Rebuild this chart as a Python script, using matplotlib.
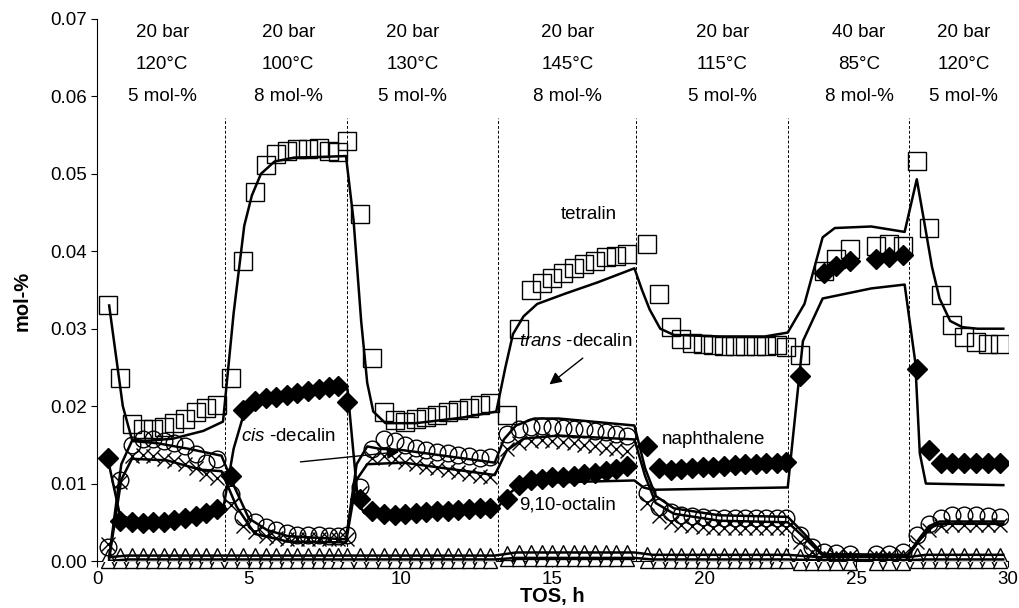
import numpy as np
import matplotlib
matplotlib.use("Agg")
from matplotlib import pyplot as plt

plt.rcParams['font.family'] = ['Liberation Sans', 'DejaVu Sans']
plt.rcParams['mathtext.fontset'] = 'custom'
plt.rcParams['mathtext.it'] = 'Liberation Sans:italic'
plt.rcParams['mathtext.rm'] = 'Liberation Sans'

nan = np.nan

# sample times (TOS, h)
tos = [0.35, 0.75, 1.15, 1.5, 1.85, 2.2, 2.55, 2.9, 3.25, 3.6, 3.95,
       4.4, 4.8, 5.2, 5.55, 5.9, 6.25, 6.6, 6.95, 7.3, 7.65, 7.95, 8.25,
       8.65, 9.05, 9.45, 9.8, 10.15, 10.5, 10.85, 11.2, 11.55, 11.9, 12.25, 12.6, 12.95,
       13.5, 13.9, 14.3, 14.65, 15.0, 15.35, 15.7, 16.05, 16.4, 16.75, 17.1, 17.45,
       18.1, 18.5, 18.9, 19.25, 19.6, 19.95, 20.3, 20.65, 21.0, 21.35, 21.7, 22.05, 22.4, 22.7,
       23.15, 23.55, 23.95, 24.35, 24.8, 25.65, 26.1, 26.55,
       27.0, 27.4, 27.8, 28.15, 28.55, 28.95, 29.35, 29.75]

tetralin = [0.033, 0.0236, 0.0177, 0.017, 0.017, 0.0173, 0.0178, 0.0184, 0.0192, 0.0198, 0.0201,
            0.0236, 0.0387, 0.0477, 0.0511, 0.0525, 0.053, 0.0532, 0.0532, 0.0533, 0.053, 0.0528, 0.0543,
            0.0448, 0.0262, 0.0193, 0.0182, 0.018, 0.0184, 0.0186, 0.0189, 0.0192, 0.0195, 0.0198, 0.0201, 0.0204,
            0.0189, 0.030, 0.035, 0.0359, 0.0366, 0.0372, 0.0378, 0.0384, 0.0388, 0.0392, 0.0394, 0.0396,
            0.0409, 0.0345, 0.0302, 0.0287, 0.0282, 0.028, 0.0279, 0.0278, 0.0278, 0.0278, 0.0278, 0.0278, 0.0279, 0.0277,
            0.0266, nan, 0.0375, 0.039, 0.0403, 0.0407, 0.0409, 0.0407,
            0.0516, 0.043, 0.0343, 0.0305, 0.0289, 0.0283, 0.028, 0.028]

naphthalene = [0.0133, 0.0052, 0.005, 0.0049, 0.005, 0.0051, 0.0053, 0.0055, 0.0058, 0.0062, 0.0067,
               0.011, 0.0195, 0.0207, 0.021, 0.0212, 0.0214, 0.0217, 0.0219, 0.0222, 0.0225, 0.0226, 0.0205,
               0.008, 0.0064, 0.0061, 0.006, 0.0061, 0.0062, 0.0063, 0.0064, 0.0065, 0.0066, 0.0067, 0.0068, 0.0069,
               0.008, 0.0098, 0.0104, 0.0106, 0.0108, 0.0109, 0.011, 0.0112, 0.0114, 0.0116, 0.0119, 0.0123,
               0.0148, 0.012, 0.0118, 0.0119, 0.012, 0.0121, 0.0122, 0.0123, 0.0124, 0.0125, 0.0125, 0.0126, 0.0127, 0.0128,
               0.0239, nan, 0.0372, 0.0381, 0.0388, 0.039, 0.0393, 0.0395,
               0.0248, 0.0143, 0.0127, 0.0126, 0.0126, 0.0127, 0.0127, 0.0127]

trans_decalin = [0.0018, 0.0105, 0.015, 0.0158, 0.0158, 0.0155, 0.0152, 0.0148, 0.0138, 0.0127, 0.0132,
                 0.0086, 0.0057, 0.005, 0.0044, 0.004, 0.0036, 0.0034, 0.0033, 0.0033, 0.0032, 0.0032, 0.0034,
                 0.0095, 0.0145, 0.0158, 0.0155, 0.015, 0.0146, 0.0143, 0.0141, 0.0139, 0.0137, 0.0135, 0.0133, 0.0134,
                 0.0164, 0.017, 0.0173, 0.0174, 0.0173, 0.0172, 0.0171, 0.017, 0.0168, 0.0166, 0.0164, 0.0162,
                 0.0088, 0.007, 0.0063, 0.006, 0.0058, 0.0057, 0.0056, 0.0055, 0.0055, 0.0055, 0.0055, 0.0056, 0.0056, 0.0055,
                 0.0034, 0.0018, 0.0011, 0.001, 0.0009, 0.0009, 0.0009, 0.0012,
                 0.0033, 0.0048, 0.0055, 0.0059, 0.006, 0.0059, 0.0058, 0.0057]

cis_decalin = [0.0022, 0.0102, 0.0136, 0.0137, 0.0135, 0.0132, 0.0129, 0.0125, 0.012, 0.0113, 0.0107,
               0.0072, 0.0045, 0.0037, 0.0032, 0.003, 0.0029, 0.0028, 0.0028, 0.0028, 0.0028, 0.0028, 0.0029,
               0.0088, 0.0133, 0.0136, 0.0132, 0.0128, 0.0125, 0.0122, 0.012, 0.0117, 0.0115, 0.0113, 0.011, 0.0108,
               0.0145, 0.0152, 0.0155, 0.0156, 0.0155, 0.0154, 0.0152, 0.015, 0.0148, 0.0146, 0.0144, 0.0142,
               0.0075, 0.0058, 0.005, 0.0047, 0.0045, 0.0044, 0.0043, 0.0043, 0.0043, 0.0043, 0.0043, 0.0043, 0.0043, 0.0043,
               0.0025, 0.0012, 0.0008, 0.0007, 0.0007, 0.0007, 0.0007, 0.0008,
               0.0025, 0.004, 0.0045, 0.0046, 0.0046, 0.0046, 0.0046, 0.0046]

octalin = [0.0006, 0.0008, 0.0008, 0.0008, 0.0008, 0.0008, 0.0008, 0.0008, 0.0008, 0.0008, 0.0008,
           0.0008, 0.0008, 0.0008, 0.0008, 0.0008, 0.0008, 0.0008, 0.0008, 0.0008, 0.0008, 0.0008, 0.0008,
           0.0008, 0.0008, 0.0008, 0.0008, 0.0008, 0.0008, 0.0008, 0.0008, 0.0008, 0.0008, 0.0008, 0.0008, 0.0008,
           0.001, 0.0011, 0.0011, 0.0011, 0.0011, 0.0011, 0.0011, 0.0011, 0.0011, 0.0011, 0.0011, 0.0011,
           0.0009, 0.0008, 0.0008, 0.0008, 0.0008, 0.0008, 0.0008, 0.0008, 0.0008, 0.0008, 0.0008, 0.0008, 0.0008, 0.0008,
           0.0007, 0.0005, 0.0004, 0.0004, 0.0004, 0.0004, 0.0004, 0.0005,
           0.0008, 0.0008, 0.0008, 0.0008, 0.0008, 0.0008, 0.0008, 0.0008]

octalin_low = [0.0, 0.0, 0.0, 0.0, 0.0, 0.0, 0.0, 0.0, 0.0, 0.0, 0.0,
               0.0, 0.0, 0.0, 0.0, 0.0, 0.0, 0.0, 0.0, 0.0, 0.0, 0.0, 0.0,
               0.0, 0.0, 0.0, 0.0, 0.0, 0.0, 0.0, 0.0, 0.0, 0.0, 0.0, 0.0, 0.0,
               0.0002, 0.0002, 0.0002, 0.0002, 0.0002, 0.0002, 0.0002, 0.0002, 0.0002, 0.0002, 0.0002, 0.0002,
               0.0, 0.0, 0.0, 0.0, 0.0, 0.0, 0.0, 0.0, 0.0, 0.0, 0.0, 0.0, 0.0, 0.0,
               -0.0002, -0.0003, -0.0003, -0.0003, -0.0003, -0.0003, -0.0003, -0.0003,
               0.0, 0.0, 0.0, 0.0, 0.0, 0.0, 0.0, 0.0]

# model curves (vertices)
tetralin_fit_t = [0.4, 0.85, 1.15, 1.6, 2.5, 3.5, 4.15, 4.5, 4.85, 5.1, 5.4, 5.85, 6.5, 7.5, 8.2,
                  8.45, 8.7, 8.9, 9.1, 9.5, 10.5, 12.0, 13.15, 13.45, 13.7, 14.05, 14.5, 15.4, 16.5, 17.7,
                  17.95, 18.2, 18.55, 19.0, 20.5, 22.0, 22.75, 23.3, 23.9, 24.3, 25.5, 26.6,
                  27.0, 27.25, 27.5, 27.75, 28.1, 28.5, 29.0, 29.85]
tetralin_fit = [0.033, 0.020, 0.0157, 0.0155, 0.0158, 0.0168, 0.018, 0.032, 0.0433, 0.0472, 0.050, 0.0516, 0.0521, 0.0522, 0.0523,
                0.044, 0.031, 0.023, 0.0193, 0.0178, 0.0178, 0.0185, 0.0193, 0.025, 0.0293, 0.0316, 0.0332, 0.0345, 0.036, 0.0378,
                0.035, 0.0325, 0.030, 0.0292, 0.029, 0.029, 0.0295, 0.0332, 0.0418, 0.043, 0.0432, 0.0425,
                0.0493, 0.0437, 0.038, 0.0339, 0.031, 0.0302, 0.030, 0.030]

naphthalene_fit_t = [0.35, 0.75, 1.2, 2.5, 3.5, 4.15, 4.5, 4.85, 5.3, 6.5, 7.8, 8.25, 8.6, 8.8, 9.1,
                     13.15, 13.5, 13.9, 14.5, 17.7, 18.0, 18.3, 22.75, 23.25, 23.9, 25.5, 26.6,
                     26.95, 27.1, 27.3, 29.85]
naphthalene_fit = [0.0133, 0.006, 0.0052, 0.0055, 0.006, 0.0066, 0.0145, 0.0192, 0.0205, 0.0215, 0.0222, 0.0222, 0.0075, 0.0062, 0.006,
                   0.0066, 0.0085, 0.0097, 0.0101, 0.0104, 0.0095, 0.0092, 0.0095, 0.0284, 0.0339, 0.0352, 0.0357,
                   0.0257, 0.0139, 0.0100, 0.0098]

trans_fit_t = [0.4, 0.8, 1.15, 2.0, 3.0, 4.1, 4.5, 5.0, 5.6, 6.3, 8.2, 8.55, 8.9, 9.3, 10.1, 13.1,
               13.4, 13.8, 14.4, 15.2, 17.7, 18.05, 18.4, 19.0, 20.5, 22.75, 23.3, 23.9, 26.7,
               27.1, 27.4, 27.75, 29.85]
trans_fit = [0.0005, 0.0125, 0.0155, 0.0152, 0.0145, 0.0136, 0.0098, 0.0055, 0.004, 0.0032, 0.0028, 0.0125, 0.0148, 0.0145, 0.0143, 0.0127,
             0.0157, 0.0175, 0.0184, 0.0184, 0.0175, 0.012, 0.0084, 0.0068, 0.0059, 0.0057, 0.0035, 0.0009, 0.0008,
             0.003, 0.0045, 0.0051, 0.0051]

cis_fit_t = [0.4, 0.8, 1.15, 2.3, 3.4, 4.1, 4.6, 5.2, 6.3, 8.2, 8.55, 8.9, 10.1, 13.1,
             13.5, 14.05, 15.2, 17.7, 18.05, 18.4, 19.0, 20.5, 22.75, 23.3, 23.9, 26.7,
             27.1, 27.4, 27.75, 29.85]
cis_fit = [0.0003, 0.0105, 0.0132, 0.013, 0.0118, 0.0116, 0.007, 0.0035, 0.0025, 0.0024, 0.0105, 0.0125, 0.0127, 0.0111,
           0.0143, 0.0158, 0.0162, 0.0157, 0.011, 0.0075, 0.0061, 0.0052, 0.005, 0.003, 0.0007, 0.0006,
           0.0027, 0.0042, 0.0048, 0.0048]

octalin_fit_t = [0.4, 1.0, 13.1, 13.8, 17.7, 18.3, 22.75, 23.8, 26.7, 27.3, 29.85]
octalin_fit = [0.0005, 0.0007, 0.0007, 0.0011, 0.0011, 0.0008, 0.0008, 0.0005, 0.0005, 0.0008, 0.0008]
octalin_low_fit = [0.0, 0.0002, 0.0002, 0.0004, 0.0004, 0.0002, 0.0002, 0.0001, 0.0001, 0.0002, 0.0002]

# reaction conditions per period
switch_times = [4.2, 8.25, 13.2, 17.75, 22.75, 26.75]
pressures = ["20 bar", "20 bar", "20 bar", "20 bar", "20 bar", "40 bar", "20 bar"]
temperatures = ["120°C", "100°C", "130°C", "145°C", "115°C", "85°C", "120°C"]
concentrations = ["5 mol-%", "8 mol-%", "5 mol-%", "8 mol-%", "5 mol-%", "8 mol-%", "5 mol-%"]
label_x = [2.15, 6.3, 10.4, 15.5, 20.6, 25.1, 28.55]


fig = plt.figure(figsize=(10.2, 6.08), dpi=100)
ax = fig.add_axes([0.0951, 0.0773, 0.893, 0.8915])

for ts in switch_times:
    ax.plot([ts, ts], [0, 0.0572], color='k', lw=0.7, ls=(0, (3, 2)), zorder=1)

mk = dict(ls='none', mec='k', mew=1.0, zorder=3)
ax.plot(tos, octalin_low, marker='^', ms=10, mfc='white', clip_on=False, **mk)
ax.plot(tos, octalin, marker='^', ms=10, mfc='white', **mk)
ax.plot(tos, cis_decalin, marker='x', ms=10, **mk)
ax.plot(tos, trans_decalin, marker='o', ms=12, mfc='none', **mk)
ax.plot(tos, naphthalene, marker='D', ms=10, mfc='k', **mk)
ax.plot(tos, tetralin, marker='s', ms=13, mfc='none', **mk)

lk = dict(color='k', lw=1.8, zorder=4, solid_joinstyle='round')
ax.plot(tetralin_fit_t, tetralin_fit, **lk)
ax.plot(naphthalene_fit_t, naphthalene_fit, **lk)
ax.plot(trans_fit_t, trans_fit, **lk)
ax.plot(cis_fit_t, cis_fit, **lk)
ax.plot(octalin_fit_t, octalin_fit, **lk)
ax.plot(octalin_fit_t, octalin_low_fit, **lk)

fs = 13.5
for x, p, tc, c in zip(label_x, pressures, temperatures, concentrations):
    ax.text(x, 0.0682, p, ha='center', va='center', fontsize=fs)
    ax.text(x, 0.0641, tc, ha='center', va='center', fontsize=fs)
    ax.text(x, 0.0600, c, ha='center', va='center', fontsize=fs)

ax.text(16.2, 0.0448, "tetralin", ha='center', va='center', fontsize=fs)
ax.text(20.3, 0.0157, "naphthalene", ha='center', va='center', fontsize=fs)
ax.text(15.5, 0.0072, "9,10-octalin", ha='center', va='center', fontsize=fs)
ax.text(15.75, 0.0283, r"$\mathit{trans}$ -decalin", ha='center', va='center', fontsize=fs)
ax.text(6.3, 0.0161, r"$\mathit{cis}$ -decalin", ha='center', va='center', fontsize=fs)
arr = dict(arrowstyle='-|>', color='k', lw=1.0, mutation_scale=18, shrinkA=0, shrinkB=0)
ax.annotate("", xy=(14.9, 0.0228), xytext=(16.0, 0.0262), arrowprops=arr)
ax.annotate("", xy=(9.95, 0.0141), xytext=(6.7, 0.0128), arrowprops=arr)

ax.set_xlim(0, 30)
ax.set_ylim(0, 0.07)
ax.set_xticks(range(0, 31, 5))
ax.set_yticks(np.arange(0, 0.071, 0.01))
ax.set_yticklabels([f"{v:.2f}" for v in np.arange(0, 0.071, 0.01)])
ax.tick_params(axis='both', labelsize=fs, direction='out', length=4, width=0.8)
ax.tick_params(axis='x', pad=3)
ax.spines['right'].set_visible(False)
ax.spines['top'].set_visible(False)
ax.set_xlabel("TOS, h", fontsize=14.5, fontweight='bold', va='center')
ax.xaxis.set_label_coords(0.5, -0.066)
ax.set_ylabel("mol-%", fontsize=14.5, fontweight='bold', va='center')
ax.yaxis.set_label_coords(-0.082, 0.48)

fig.savefig("out.png", dpi=100)
